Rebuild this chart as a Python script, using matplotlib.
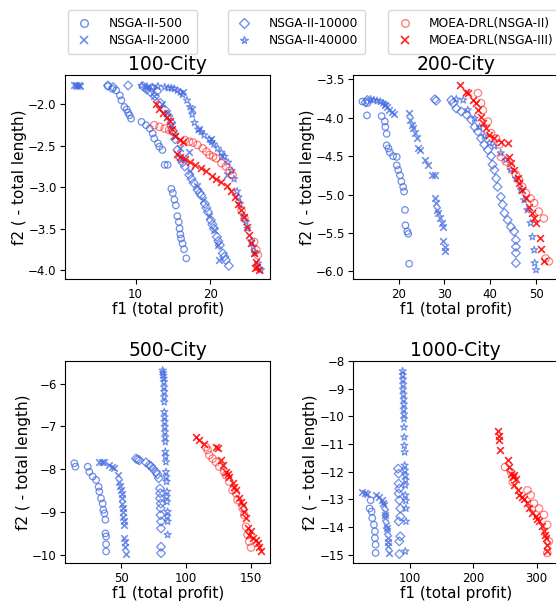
import matplotlib.pyplot as plt
from matplotlib.lines import Line2D

BLUE = 'royalblue'
RED = 'red'

# ---------------- 100-City ----------------
c100_n500_x = [6.3, 6.9, 7.4, 7.9, 8.1, 8.5, 8.8, 9.0, 9.2, 9.4, 10.8, 11.4, 11.9, 12.3, 12.5, 13.0, 13.2, 13.6,
               13.9, 14.3, 14.8, 15.0, 15.2, 15.4, 15.6, 15.8, 15.9, 16.0, 16.1, 16.3, 16.5, 16.8]
c100_n500_y = [-1.78, -1.81, -1.83, -1.89, -1.95, -2.03, -2.06, -2.10, -2.13, -2.17, -2.21, -2.25, -2.29, -2.35,
               -2.41, -2.47, -2.51, -2.55, -2.73, -2.73, -3.02, -3.07, -3.15, -3.22, -3.35, -3.42, -3.50, -3.57,
               -3.62, -3.68, -3.75, -3.86]
c100_n2000_x = [1.8, 2.0, 2.2, 2.4, 2.6, 11.5, 12.5, 13.5, 14.2, 14.8, 15.3, 15.9, 17.2, 16.4, 17.3, 18.2, 19.0,
                19.8, 20.5, 21.0, 21.2, 16.3, 17.5, 18.5, 20.1, 21.6, 22.3]
c100_n2000_y = [-1.77, -1.76, -1.78, -1.77, -1.78, -1.80, -1.90, -2.00, -2.10, -2.25, -2.38, -2.53, -2.57, -2.65,
                -2.80, -2.98, -3.15, -3.35, -3.52, -3.70, -3.88, -1.85, -2.05, -2.30, -2.42, -2.62, -2.85]
c100_n10000_x = [6.3, 7.0, 9.0, 11.0, 11.5, 12.0, 12.6, 13.3, 13.9, 14.4, 14.8, 15.0, 15.3, 15.6, 16.0, 16.6, 17.2,
                 17.8, 18.3, 18.8, 19.3, 19.7, 20.1, 20.5, 20.9, 21.3, 21.7, 22.1, 22.5, 12.2, 12.9, 16.3, 17.5,
                 18.6, 19.5, 20.3, 21.1, 21.9]
c100_n10000_y = [-1.77, -1.79, -1.77, -1.78, -1.82, -1.85, -1.90, -1.98, -2.06, -2.14, -2.22, -2.32, -2.42, -2.55,
                 -2.65, -2.75, -2.85, -2.95, -3.03, -3.10, -3.20, -3.30, -3.40, -3.50, -3.60, -3.70, -3.80, -3.88,
                 -3.95, -1.80, -1.84, -2.70, -2.90, -3.07, -3.25, -3.45, -3.65, -3.84]
c100_n40000_x = [10.8, 11.5, 12.3, 13.0, 13.9, 14.8, 15.6, 16.3, 16.9, 17.3, 17.6, 17.9, 18.4, 19.2, 19.9, 20.5,
                 21.0, 21.5, 21.9, 22.4, 22.9, 23.2, 23.6, 24.0, 24.5, 25.0, 25.5, 26.0, 26.4, 26.8, 14.4, 15.2,
                 16.0, 18.8, 20.2, 23.8, 24.8, 25.8]
c100_n40000_y = [-1.77, -1.78, -1.79, -1.78, -1.79, -1.80, -1.83, -1.88, -1.95, -2.03, -2.12, -2.22, -2.30, -2.37,
                 -2.42, -2.48, -2.53, -2.58, -2.63, -2.70, -2.80, -2.90, -3.05, -3.20, -3.35, -3.50, -3.65, -3.80,
                 -3.92, -4.00, -1.80, -1.81, -1.85, -2.33, -2.45, -3.12, -3.42, -3.72]
c100_drl2_x = [12.5, 13.2, 13.9, 14.5, 15.0, 16.6, 17.2, 17.7, 18.3, 19.0, 19.5, 19.9, 20.4, 20.8, 21.5, 22.1, 22.6,
               23.0, 24.2, 24.6, 25.9, 26.2, 26.4]
c100_drl2_y = [-2.25, -2.27, -2.29, -2.31, -2.33, -2.43, -2.45, -2.46, -2.49, -2.53, -2.57, -2.61, -2.63, -2.65,
               -2.71, -2.75, -2.80, -2.85, -3.28, -3.38, -3.66, -3.76, -3.82]
c100_drl3_x = [12.8, 13.2, 13.7, 14.2, 14.6, 14.9, 15.3, 15.9, 16.4, 15.5, 16.0, 16.6, 17.3, 18.0, 18.8, 19.5, 20.2,
               20.8, 21.5, 22.2, 22.8, 23.3, 23.7, 24.1, 24.5, 24.9, 25.2, 25.5, 25.9, 26.2, 26.3, 26.0, 26.5]
c100_drl3_y = [-2.00, -2.05, -2.10, -2.15, -2.20, -2.30, -2.38, -2.43, -2.45, -2.60, -2.63, -2.66, -2.70, -2.73,
               -2.77, -2.80, -2.86, -2.90, -2.94, -2.98, -3.04, -3.12, -3.20, -3.28, -3.36, -3.48, -3.58, -3.68,
               -3.80, -3.90, -3.97, -3.98, -4.00]

# ---------------- 200-City ----------------
c200_n500_x = [12.1, 13.2, 13.1, 16.3, 17.0, 17.1, 17.4, 17.4, 17.8, 18.1, 18.8, 19.6, 19.6, 19.9, 20.3, 20.6, 21.0,
               21.2, 21.4, 21.5, 21.9, 22.1, 22.3]
c200_n500_y = [-3.79, -3.81, -3.97, -3.98, -4.05, -4.12, -4.21, -4.36, -4.40, -4.45, -4.50, -4.51, -4.62, -4.68,
               -4.75, -4.83, -4.90, -4.96, -5.20, -5.40, -5.48, -5.51, -5.90]
c200_n2000_x = [17.0, 17.5, 18.0, 18.5, 19.0, 22.2, 22.5, 22.9, 23.2, 23.6, 24.0, 24.3, 24.7, 25.8, 26.5, 27.2, 27.9,
                27.9, 28.1, 28.3, 28.7, 29.0, 29.4, 29.7, 29.7, 30.1, 30.2]
c200_n2000_y = [-3.84, -3.86, -3.90, -3.92, -3.95, -3.94, -4.03, -4.09, -4.14, -4.20, -4.27, -4.40, -4.42, -4.55,
                -4.61, -4.74, -4.74, -5.05, -5.11, -5.20, -5.24, -5.31, -5.37, -5.42, -5.61, -5.68, -5.74]
c200_n10000_x = [12.8, 13.2, 27.9, 28.2, 31.5, 31.9, 32.6, 33.7, 34.8, 35.9, 36.6, 37.3, 38.0, 38.7, 39.5, 40.2,
                 40.5, 40.9, 41.3, 41.6, 42.3, 42.7, 43.1, 43.8, 44.5, 45.2, 45.6, 45.6, 45.6, 45.6]
c200_n10000_y = [-3.80, -3.77, -3.76, -3.78, -3.77, -3.81, -3.88, -3.92, -3.96, -4.03, -4.12, -4.18, -4.27, -4.35,
                 -4.42, -4.50, -4.61, -4.68, -4.79, -4.90, -5.03, -5.13, -5.24, -5.33, -5.42, -5.48, -5.59, -5.68,
                 -5.76, -5.89]
c200_n40000_x = [13.9, 14.6, 15.3, 16.0, 16.6, 17.1, 32.6, 34.1, 35.1, 36.6, 37.7, 38.7, 39.8, 40.9, 42.3, 43.4,
                 44.5, 45.6, 46.7, 47.4, 48.1, 48.8, 49.2, 49.6, 49.7, 50.0]
c200_n40000_y = [-3.76, -3.77, -3.78, -3.79, -3.81, -3.83, -3.76, -3.77, -3.90, -4.01, -4.12, -4.24, -4.33, -4.37,
                 -4.46, -4.55, -4.68, -4.79, -4.94, -5.07, -5.20, -5.37, -5.55, -5.72, -5.89, -5.98]
c200_drl2_x = [37.3, 38.0, 38.4, 39.5, 40.2, 41.3, 42.0, 42.3, 43.4, 44.5, 45.6, 46.3, 47.0, 47.8, 48.8, 49.6,
               50.6, 51.7, 52.1, 52.8]
c200_drl2_y = [-3.68, -3.81, -3.90, -4.05, -4.20, -4.27, -4.35, -4.51, -4.57, -4.64, -4.74, -4.81, -4.90, -4.98,
               -5.05, -5.11, -5.22, -5.31, -5.83, -5.87]
c200_drl3_x = [33.3, 34.8, 35.1, 36.2, 36.9, 37.3, 38.0, 38.4, 39.1, 39.8, 40.9, 42.3, 43.8, 44.2, 44.5, 45.2,
               46.0, 46.3, 47.0, 47.8, 48.5, 49.2, 49.6, 49.9, 50.9, 51.0, 51.7]
c200_drl3_y = [-3.57, -3.66, -3.68, -3.77, -3.81, -3.90, -3.99, -4.07, -4.14, -4.22, -4.27, -4.31, -4.33, -4.51,
               -4.59, -4.68, -4.79, -4.85, -4.94, -5.05, -5.16, -5.24, -5.31, -5.37, -5.57, -5.71, -5.87]

# ---------------- 500-City ----------------
c500_n500_x = [14.1, 14.9, 24.4, 25.6, 28.2, 30.8, 32.8, 33.3, 34.6, 35.9, 36.4, 37.2, 38.0, 38.0, 38.5, 38.5, 38.5]
c500_n500_y = [-7.86, -7.94, -7.94, -8.06, -8.17, -8.25, -8.41, -8.52, -8.68, -8.80, -8.95, -9.03, -9.18, -9.50,
               -9.57, -9.75, -9.92]
c500_n2000_x = [33.3, 37.2, 41.0, 44.9, 47.4, 48.7, 50.0, 50.8, 51.3, 51.8, 52.1, 52.6, 53.3, 53.8, 35.0, 43.0,
                49.2, 50.4, 51.0, 51.6, 52.3, 53.0]
c500_n2000_y = [-7.83, -7.84, -7.90, -7.98, -8.14, -8.29, -8.49, -8.68, -8.91, -9.11, -9.30, -9.61, -9.81, -9.98,
                -7.82, -7.94, -8.38, -8.58, -8.80, -9.00, -9.20, -9.70]
c500_n10000_x = [61.5, 64.1, 69.2, 71.8, 74.4, 76.9, 79.0, 80.0, 80.0, 80.5, 80.5, 80.8, 80.8, 80.8, 80.8, 62.8,
                 73.0, 78.0, 80.2, 80.6]
c500_n10000_y = [-7.75, -7.79, -7.84, -7.90, -7.98, -8.06, -8.21, -8.45, -8.68, -8.91, -9.07, -9.22, -9.38, -9.81,
                 -9.96, -7.77, -7.93, -8.12, -8.56, -8.80]
c500_n40000_x = [82.1, 82.6, 83.1, 83.3, 83.3, 83.3, 83.6, 83.8, 84.1, 84.1, 84.6, 84.6, 85.1, 85.4, 85.4, 85.9,
                 85.9, 85.9, 82.4, 82.9, 83.2, 83.3, 83.5, 83.7, 84.0, 84.3, 84.8, 85.2, 85.6]
c500_n40000_y = [-5.69, -5.81, -5.96, -6.19, -6.43, -6.66, -6.89, -7.13, -7.36, -7.59, -7.83, -8.06, -8.29, -8.52,
                 -8.76, -8.99, -9.22, -9.53, -5.75, -5.88, -6.08, -6.31, -6.78, -7.01, -7.25, -7.70, -8.18, -8.64,
                 -9.10]
c500_drl2_x = [115.4, 116.7, 118.0, 120.5, 123.1, 125.6, 129.5, 130.8, 133.3, 135.9, 138.5, 139.7, 143.6, 144.9,
               146.2, 147.4, 148.7, 150.0]
c500_drl2_y = [-7.48, -7.55, -7.67, -7.75, -7.83, -7.94, -8.06, -8.14, -8.29, -8.49, -8.56, -8.72, -8.91, -9.07,
               -9.34, -9.53, -9.69, -9.83]
c500_drl3_x = [107.7, 110.3, 114.1, 123.1, 124.4, 126.9, 128.2, 130.8, 133.3, 135.9, 138.5, 141.0, 143.6, 144.9,
               146.2, 147.4, 148.7, 151.3, 153.8, 155.1, 156.4, 157.7, 132.0, 137.2, 142.3, 150.0]
c500_drl3_y = [-7.24, -7.32, -7.40, -7.48, -7.51, -7.79, -7.90, -8.06, -8.17, -8.33, -8.49, -8.68, -8.83, -8.99,
               -9.15, -9.38, -9.53, -9.61, -9.65, -9.73, -9.81, -9.92, -8.12, -8.41, -8.76, -9.45]

# ---------------- 1000-City ----------------
c1000_n500_x = [37.3, 35.8, 38.9, 39.9, 42.6, 44.1, 44.1, 45.2, 45.2]
c1000_n500_y = [-13.03, -13.33, -13.44, -13.68, -13.92, -14.16, -14.40, -14.64, -14.94]
c1000_n2000_x = [24.3, 32.1, 45.2, 50.4, 55.6, 58.2, 59.8, 60.8, 61.9, 63.4, 65.0, 65.0, 66.1, 28.0, 57.0, 60.3,
                 62.5, 64.2]
c1000_n2000_y = [-12.73, -12.79, -12.85, -12.91, -13.03, -13.21, -13.44, -13.68, -13.92, -14.16, -14.40, -14.70,
                 -14.94, -12.76, -13.12, -13.56, -14.04, -14.55]
c1000_n10000_x = [80.7, 81.7, 81.7, 82.8, 81.7, 82.8, 84.3, 84.3, 81.7, 84.3, 82.8, 82.8]
c1000_n10000_y = [-11.89, -12.07, -12.43, -12.61, -12.79, -13.03, -13.33, -13.62, -13.80, -14.34, -14.52, -14.98]
c1000_n40000_x = [88.0, 88.5, 88.5, 89.6, 89.6, 90.1, 90.1, 90.6, 90.6, 91.1, 91.1, 92.2, 92.2, 92.2, 93.2, 93.2,
                  92.2, 88.2, 88.8, 89.2, 89.9, 90.3, 91.5, 92.6, 92.9]
c1000_n40000_y = [-8.36, -8.66, -9.02, -9.38, -9.74, -10.09, -10.39, -10.75, -11.05, -11.29, -11.77, -12.13,
                  -12.49, -12.85, -13.33, -13.80, -14.88, -8.50, -8.84, -9.20, -9.56, -9.92, -11.95, -12.30,
                  -13.05]
c1000_drl2_x = [249.9, 259.3, 261.9, 285.4, 290.6, 295.8, 303.7, 311.5, 316.7, 319.3, 316.7]
c1000_drl2_y = [-11.83, -12.01, -12.37, -12.67, -12.85, -13.15, -13.33, -13.56, -13.92, -14.52, -14.94]
c1000_drl3_x = [238.4, 241.0, 241.0, 242.6, 254.0, 256.6, 259.3, 264.5, 267.1, 264.5, 269.7, 272.3, 280.1, 285.4,
                288.0, 293.2, 298.4, 303.7, 308.9, 311.5, 314.1, 315.7, 316.7, 262.0, 277.0, 300.8, 312.8]
c1000_drl3_y = [-10.51, -10.69, -10.87, -11.23, -11.59, -11.83, -12.07, -12.13, -12.25, -12.49, -12.67, -12.85,
                -12.97, -13.15, -13.33, -13.50, -13.62, -13.80, -13.98, -14.16, -14.40, -14.64, -14.88, -12.20,
                -12.90, -13.70, -14.28]

panels = [
    ('100-City', [c100_n500_x, c100_n2000_x, c100_n10000_x, c100_n40000_x, c100_drl2_x, c100_drl3_x],
     [c100_n500_y, c100_n2000_y, c100_n10000_y, c100_n40000_y, c100_drl2_y, c100_drl3_y]),
    ('200-City', [c200_n500_x, c200_n2000_x, c200_n10000_x, c200_n40000_x, c200_drl2_x, c200_drl3_x],
     [c200_n500_y, c200_n2000_y, c200_n10000_y, c200_n40000_y, c200_drl2_y, c200_drl3_y]),
    ('500-City', [c500_n500_x, c500_n2000_x, c500_n10000_x, c500_n40000_x, c500_drl2_x, c500_drl3_x],
     [c500_n500_y, c500_n2000_y, c500_n10000_y, c500_n40000_y, c500_drl2_y, c500_drl3_y]),
    ('1000-City', [c1000_n500_x, c1000_n2000_x, c1000_n10000_x, c1000_n40000_x, c1000_drl2_x, c1000_drl3_x],
     [c1000_n500_y, c1000_n2000_y, c1000_n10000_y, c1000_n40000_y, c1000_drl2_y, c1000_drl3_y]),
]

labels = ['NSGA-II-500', 'NSGA-II-2000', 'NSGA-II-10000', 'NSGA-II-40000',
          'MOEA-DRL(NSGA-II)', 'MOEA-DRL(NSGA-III)']
# marker, colour, hollow?, alpha, size
styles = [('o', BLUE, True, 0.75, 22),
          ('x', BLUE, False, 0.75, 22),
          ('D', BLUE, True, 0.75, 20),
          ('*', BLUE, True, 0.75, 28),
          ('o', RED, True, 0.5, 28),
          ('x', RED, False, 0.85, 24)]

fig = plt.figure(figsize=(5.56, 6.03), dpi=100)
positions = [[0.117, 0.537, 0.369, 0.338], [0.635, 0.537, 0.369, 0.338],
             [0.117, 0.066, 0.369, 0.335], [0.635, 0.066, 0.369, 0.335]]

for (title, xs, ys), pos in zip(panels, positions):
    ax = fig.add_axes(pos)
    for x, y, (m, c, hollow, a, s) in zip(xs, ys, styles):
        if hollow:
            ax.scatter(x, y, marker=m, facecolors='none', edgecolors=c, alpha=a, s=s, linewidths=0.9)
        else:
            ax.scatter(x, y, marker=m, color=c, alpha=a, s=s, linewidths=1.2)
    ax.set_title(title, fontsize=13.5, pad=4)
    ax.set_xlabel('f1 (total profit)', fontsize=11, labelpad=1)
    ax.set_ylabel('f2 ( - total length)', fontsize=11, labelpad=1)
    ax.tick_params(labelsize=8.5, pad=2.5)

fig.axes[3].set_yticks(range(-15, -7))


def handle(i):
    m, c, hollow, a, s = styles[i]
    if hollow:
        return Line2D([], [], marker=m, linestyle='none', markerfacecolor='none', markeredgecolor=c,
                      alpha=a, markersize=5.5)
    return Line2D([], [], marker=m, linestyle='none', color=c, alpha=a, markersize=5.5, markeredgewidth=1.2)


legend_boxes = [(0, 1, 0.122), (2, 3, 0.41), (4, 5, 0.698)]
for i, j, x0 in legend_boxes:
    fig.legend([handle(i), handle(j)], [labels[i], labels[j]], loc='upper left',
               bbox_to_anchor=(x0, 0.983), fontsize=8.8, frameon=True, handlelength=1.6,
               handletextpad=1.2, borderpad=0.55, labelspacing=0.35, borderaxespad=0)

fig.savefig('out.png', dpi=100)
